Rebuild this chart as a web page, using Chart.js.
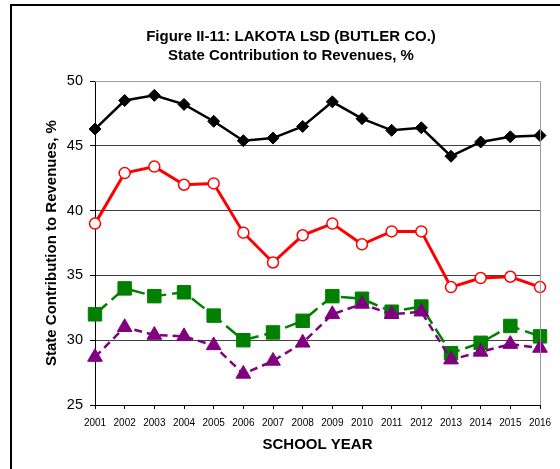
<!DOCTYPE html>
<html lang="en">
<head>
    <meta charset="UTF-8">
    <title>State Contribution to Revenues</title>
    <style>
        body {
            margin: 0;
            background-color: #fff;
        }

        .frame {
            position: absolute;
            left: 10px;
            top: 4px;
            width: 600px;
            height: 500px;
            border: 2px solid #000;
        }

        #chart {
            position: absolute;
            left: 0;
            top: 0;
        }
    </style>
</head>
<body>

    <div class="frame"></div>
    <canvas id="chart" width="560" height="469"></canvas>

    <script src="https://cdn.jsdelivr.net/npm/chart.js@4.4.1/dist/chart.umd.min.js"></script>
    <script>
    // school years on the x axis
    const years = ['2001', '2002', '2003', '2004', '2005', '2006', '2007', '2008',
                   '2009', '2010', '2011', '2012', '2013', '2014', '2015', '2016'];

    // values, % of revenues
    const blackSeries  = [46.3, 48.5, 48.9, 48.2, 46.9, 45.4, 45.6, 46.5, 48.4, 47.1, 46.2, 46.4, 44.2, 45.3, 45.7, 45.8];
    const redSeries    = [39.0, 42.9, 43.4, 42.0, 42.1, 38.3, 36.0, 38.1, 39.0, 37.4, 38.4, 38.4, 34.1, 34.8, 34.9, 34.1];
    const greenSeries  = [32.0, 34.0, 33.4, 33.7, 31.9, 30.0, 30.6, 31.5, 33.4, 33.2, 32.2, 32.6, 29.0, 29.8, 31.1, 30.3];
    const purpleSeries = [28.7, 31.0, 30.4, 30.3, 29.6, 27.4, 28.4, 29.8, 32.0, 32.8, 32.0, 32.2, 28.5, 29.1, 29.7, 29.4];

    // y axis range
    const yMin = 25;
    const yMax = 50;
    const yStep = 5;

    const fontFamily = '"Liberation Sans", Arial, sans-serif';

    // gray frame on the top and right of the plot area
    const plotFrame = {
        id: 'plotFrame',
        afterDatasetsDraw(chart) {
            const a = chart.chartArea;
            const ctx = chart.ctx;
            ctx.save();
            ctx.strokeStyle = '#9a9a9a';
            ctx.lineWidth = 1;
            ctx.beginPath();
            ctx.moveTo(a.left, a.top + 0.5);
            ctx.lineTo(a.right + 0.5, a.top + 0.5);
            ctx.lineTo(a.right + 0.5, a.bottom);
            ctx.stroke();
            ctx.restore();
        }
    };

    const chart = new Chart(document.getElementById('chart').getContext('2d'), {
        type: 'line',
        data: {
            labels: years,
            datasets: [
                {
                    label: 'Series 1', data: blackSeries, order: 3,
                    borderColor: '#000', borderWidth: 2.5,
                    pointStyle: 'rectRot', pointRadius: 6, pointBackgroundColor: '#000',
                    pointBorderColor: '#000', pointBorderWidth: 1
                },
                {
                    label: 'Series 2', data: redSeries, order: 2,
                    borderColor: '#ff0000', borderWidth: 3,
                    pointStyle: 'circle', pointRadius: 5.5, pointBackgroundColor: '#fff',
                    pointBorderColor: '#ff0000', pointBorderWidth: 1.5
                },
                {
                    label: 'Series 3', data: greenSeries, order: 1,
                    borderColor: '#008000', borderWidth: 2.5, borderDash: [16, 6],
                    pointStyle: 'rect', pointRadius: 9.5, pointBackgroundColor: '#008000',
                    pointBorderColor: '#008000', pointBorderWidth: 1
                },
                {
                    label: 'Series 4', data: purpleSeries, order: 0,
                    borderColor: '#800080', borderWidth: 2.5, borderDash: [8, 5],
                    pointStyle: 'triangle', pointRadius: 8.5, pointBackgroundColor: '#800080',
                    pointBorderColor: '#800080', pointBorderWidth: 1
                }
            ]
        },
        options: {
            responsive: false,
            devicePixelRatio: 1,
            animation: false,
            layout: { padding: { left: 42, right: 20, top: 0, bottom: 0 } },
            elements: { line: { tension: 0 } },
            datasets: { line: { clip: false } },
            plugins: {
                legend: { display: false },
                tooltip: { enabled: false },
                title: {
                    display: true,
                    text: ['Figure II-11: LAKOTA LSD (BUTLER CO.)', 'State Contribution to Revenues, %'],
                    color: '#000',
                    font: { family: fontFamily, size: 15, weight: 'bold', lineHeight: 1.27 },
                    padding: { top: 27, bottom: 16 }
                }
            },
            scales: {
                x: {
                    offset: false,
                    afterFit: (scale) => { scale.height = 64; },
                    border: { color: '#000', width: 1 },
                    grid: {
                        drawOnChartArea: false,
                        color: 'rgba(0,0,0,0)',
                        tickColor: '#000',
                        tickLength: 4
                    },
                    ticks: {
                        color: '#000',
                        font: { family: fontFamily, size: 10 },
                        maxRotation: 0,
                        autoSkip: false,
                        padding: 8
                    },
                    title: {
                        display: true,
                        text: 'SCHOOL YEAR',
                        color: '#000',
                        font: { family: fontFamily, size: 15, weight: 'bold', lineHeight: 1.2 },
                        padding: { top: 0, bottom: 15 }
                    }
                },
                y: {
                    min: yMin,
                    max: yMax,
                    afterFit: (scale) => { scale.width = 53; },
                    border: { color: '#000', width: 1 },
                    grid: {
                        color: (ctx) => (ctx.tick && ctx.tick.value === yMax) ? 'rgba(0,0,0,0)' : '#404040',
                        tickColor: '#000',
                        tickLength: 5
                    },
                    ticks: {
                        stepSize: yStep,
                        color: '#000',
                        font: { family: fontFamily, size: 14.5 },
                        padding: 7
                    },
                    title: {
                        display: true,
                        text: 'State Contribution to Revenues, %',
                        color: '#000',
                        font: { family: fontFamily, size: 15, weight: 'bold', lineHeight: 1.2 },
                        padding: { top: 1, bottom: 0 }
                    }
                }
            }
        },
        plugins: [plotFrame]
    });
    </script>

</body>
</html>
